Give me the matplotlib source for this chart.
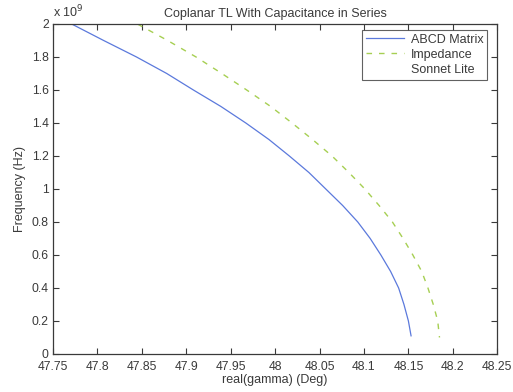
import matplotlib
matplotlib.use("Agg")
import matplotlib.pyplot as plt

# == data ==
# frequency in units of 1e9 Hz, real(gamma) in degrees
freq_abcd = [2.0, 1.9, 1.8, 1.7, 1.6, 1.5, 1.4, 1.3, 1.2, 1.1, 1.0,
             0.9, 0.8, 0.7, 0.6, 0.5, 0.4, 0.3, 0.2, 0.11]
gamma_abcd = [47.771, 47.807, 47.844, 47.878, 47.908, 47.939, 47.967, 47.993,
              48.016, 48.038, 48.057, 48.076, 48.093, 48.107, 48.119, 48.130,
              48.139, 48.145, 48.150, 48.153]

freq_imp = [2.0, 1.9, 1.8, 1.7, 1.6, 1.5, 1.4, 1.3, 1.2, 1.1, 1.0,
            0.9, 0.8, 0.7, 0.6, 0.5, 0.4, 0.3, 0.2, 0.1]
gamma_imp = [47.845, 47.879, 47.911, 47.940, 47.968, 47.995, 48.019, 48.042,
             48.064, 48.083, 48.101, 48.117, 48.132, 48.144, 48.155, 48.165,
             48.172, 48.178, 48.183, 48.185]

x_ticks = [47.75, 47.8, 47.85, 47.9, 47.95, 48, 48.05, 48.1, 48.15, 48.2, 48.25]
x_labels = ["47.75", "47.8", "47.85", "47.9", "47.95", "48", "48.05",
            "48.1", "48.15", "48.2", "48.25"]
y_ticks = [0, 0.2, 0.4, 0.6, 0.8, 1, 1.2, 1.4, 1.6, 1.8, 2]
y_labels = ["0", "0.2", "0.4", "0.6", "0.8", "1", "1.2", "1.4", "1.6", "1.8", "2"]

plt.rcParams['font.family'] = ['Liberation Sans', 'DejaVu Sans']
edge = "#3a3a3a"
fs = 9

fig = plt.figure(figsize=(5.13, 3.92), dpi=100)
ax = fig.add_axes([0.1033, 0.097, 0.866, 0.8418])

ax.plot(gamma_abcd, freq_abcd, color="#5b79dc", lw=0.9, label="ABCD Matrix")
ax.plot(gamma_imp, freq_imp, color="#a6cf52", lw=1.0, ls=(0, (4, 5)), label="Impedance")
ax.plot([], [], color="none", label="Sonnet Lite")

ax.set_xlim(47.75, 48.25)
ax.set_ylim(0, 2)
ax.set_xticks(x_ticks)
ax.set_xticklabels(x_labels)
ax.set_yticks(y_ticks)
ax.set_yticklabels(y_labels)
ax.tick_params(direction="in", top=True, right=True, labelsize=8.7,
               colors=edge, length=4, width=0.8)
ax.tick_params(axis="x", pad=5)
ax.tick_params(axis="y", pad=3)
for s in ax.spines.values():
    s.set_color(edge)
    s.set_linewidth(0.9)

ax.set_xlabel("real(gamma) (Deg)", fontsize=fs, color=edge, labelpad=1)
ax.set_ylabel("Frequency (Hz)", fontsize=fs, color=edge, labelpad=4)
ax.set_title("Coplanar TL With Capacitance in Series", fontsize=fs, color=edge, pad=5)
ax.text(0.0, 1.012, "x 10$^9$", transform=ax.transAxes, fontsize=fs, color=edge,
        ha="left", va="bottom")

leg = ax.legend(loc="upper right", bbox_to_anchor=(0.978, 0.982), fontsize=fs,
                frameon=True, fancybox=False, borderaxespad=0, handlelength=3.0,
                labelspacing=0.25, borderpad=0.3, handletextpad=0.6)
leg.get_frame().set_edgecolor(edge)
leg.get_frame().set_linewidth(0.8)
for t in leg.get_texts():
    t.set_color(edge)

fig.savefig("out.png", dpi=100)
